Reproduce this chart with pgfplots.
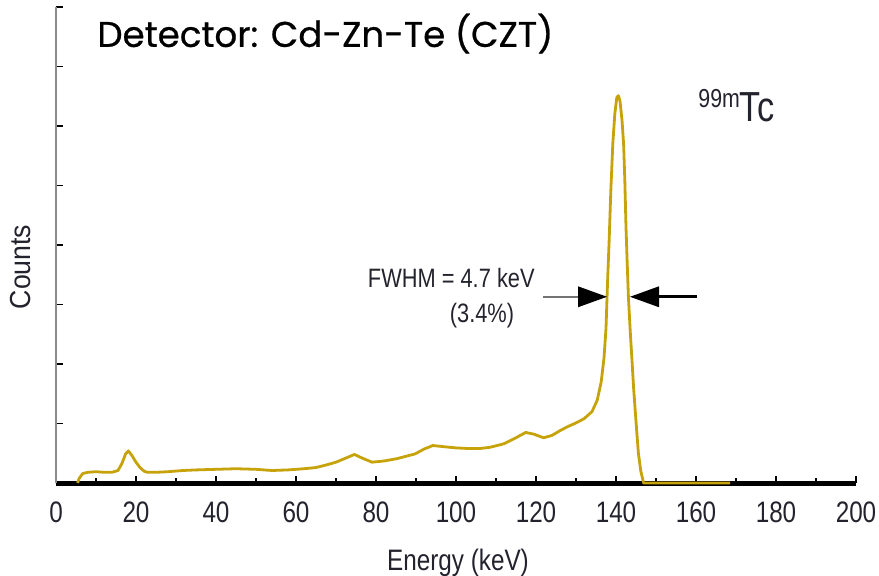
\documentclass[border=0pt]{standalone}
\usepackage{fontspec}
\setmainfont{Liberation Sans}
\newfontfamily\titlefont[FakeBold=0.6]{Poppins}
\usepackage{graphicx}
\usepackage{pgfplots}
\pgfplotsset{compat=1.18}
\definecolor{gold}{RGB}{198,163,10}
\definecolor{lab}{RGB}{35,35,45}
\newcommand\sqz[1]{\scalebox{0.82}[1]{#1}}
\begin{document}
\begin{tikzpicture}
\useasboundingbox (-28pt,-46pt) rectangle (411.5pt,241.5pt);
\begin{axis}[
  at={(0,0)}, anchor=south west,
  scale only axis, width=400pt, height=238pt,
  xmin=0, xmax=200, ymin=0, ymax=8,
  axis x line*=bottom, axis y line*=left,
  x axis line style={line width=2.5pt, black},
  y axis line style={line width=1pt, black!45},
  xtick={0,20,...,200},
  xticklabels={\sqz{0},\sqz{20},\sqz{40},\sqz{60},\sqz{80},\sqz{100},\sqz{120},\sqz{140},\sqz{160},\sqz{180},\sqz{200}},
  minor xtick={10,30,...,190},
  ytick={1,...,8}, yticklabels={},
  tick align=inside,
  major tick length=3.5pt, minor tick length=2.5pt,
  every tick/.style={black, line width=0.75pt},
  xticklabel style={font=\fontsize{14.8}{17}\selectfont, text=lab, anchor=base, yshift=-19.5pt, inner sep=0pt},
  xlabel={\sqz{Energy (keV)}},
  xlabel style={font=\fontsize{14.8}{17}\selectfont, text=lab, at={(axis description cs:0.5025,-0.1828)}, anchor=base, inner sep=0pt},
  ylabel={\scalebox{0.92}[1]{Counts}},
  ylabel style={font=\fontsize{14.5}{17}\selectfont, text=lab, at={(axis description cs:-0.04375,0.454)}, anchor=center, inner sep=0pt},
  clip=false,
]
\addplot[gold, line width=1.4pt, line join=round] coordinates {
(5.4,0) (5.8,0.08) (6.7,0.16) (8,0.18) (10,0.19) (12,0.18) (14,0.18)
(15.5,0.21) (16.5,0.33) (17.4,0.49) (18.1,0.54) (19,0.46) (20,0.35) (21,0.26)
(22,0.2) (22.8,0.18) (25,0.18) (28,0.19) (31.7,0.21) (35,0.22) (40,0.23)
(45,0.24) (50,0.23) (54,0.21) (58,0.22) (62,0.24) (65,0.26) (67.4,0.30)
(70,0.35) (72.5,0.42) (74.6,0.48) (76.5,0.42) (79,0.35) (82,0.37) (85.3,0.41)
(89.8,0.49) (92,0.57) (94.2,0.63) (97,0.61) (100,0.59) (103,0.58) (106,0.58)
(108.5,0.60) (112,0.66) (115,0.76) (117.4,0.85) (119.5,0.82) (121.9,0.76)
(124,0.80) (126,0.88) (128,0.95) (130,1.01) (132,1.08) (134,1.2) (135.3,1.39)
(136.3,1.70) (137.0,2.1) (137.5,2.6) (137.9,3.4) (138.3,4.1) (138.7,4.9)
(139.2,5.7) (139.7,6.2) (140.2,6.48) (140.6,6.51) (141.0,6.42) (141.5,6.1)
(141.9,5.7) (142.2,5.1) (142.5,4.3) (142.8,3.7) (143.1,3.13) (143.6,2.5)
(144.0,2.06) (144.4,1.6) (144.8,1.22) (145.2,0.85) (145.6,0.50) (146.2,0.2)
(146.9,0.0) (168.5,0.0)
};
% FWHM arrows
\draw[black!55, line width=0.8pt] (axis cs:121.75,3.13) -- (axis cs:131,3.13);
\fill[black] (axis cs:137.75,3.13) -- (axis cs:130.5,3.306) -- (axis cs:130.5,2.954) -- cycle;
\draw[black, line width=1.6pt] (axis cs:150,3.13) -- (axis cs:160.25,3.13);
\fill[black] (axis cs:143.5,3.13) -- (axis cs:150.75,3.306) -- (axis cs:150.75,2.954) -- cycle;
% annotations
\node[anchor=base east, inner sep=0pt, text=lab, font=\fontsize{13.3}{16}\selectfont] at (axis cs:119.75,3.28) {\sqz{FWHM = 4.7 keV}};
\node[anchor=base, inner sep=0pt, text=lab, font=\fontsize{13.3}{16}\selectfont] at (axis cs:106.5,2.69) {\sqz{(3.4\%)}};
\node[anchor=base west, inner sep=0pt, text=lab] at (axis cs:160.5,6.07) {\sqz{\raisebox{7pt}{\fontsize{13}{15}\selectfont 99m}\fontsize{21}{25}\selectfont Tc}};
\node[anchor=base west, inner sep=0pt] at (axis cs:10.25,7.33) {\resizebox{228pt}{!}{\titlefont\fontsize{18}{22}\selectfont Detector: Cd-Zn-Te (CZT)}};
\end{axis}
\end{tikzpicture}
\end{document}
